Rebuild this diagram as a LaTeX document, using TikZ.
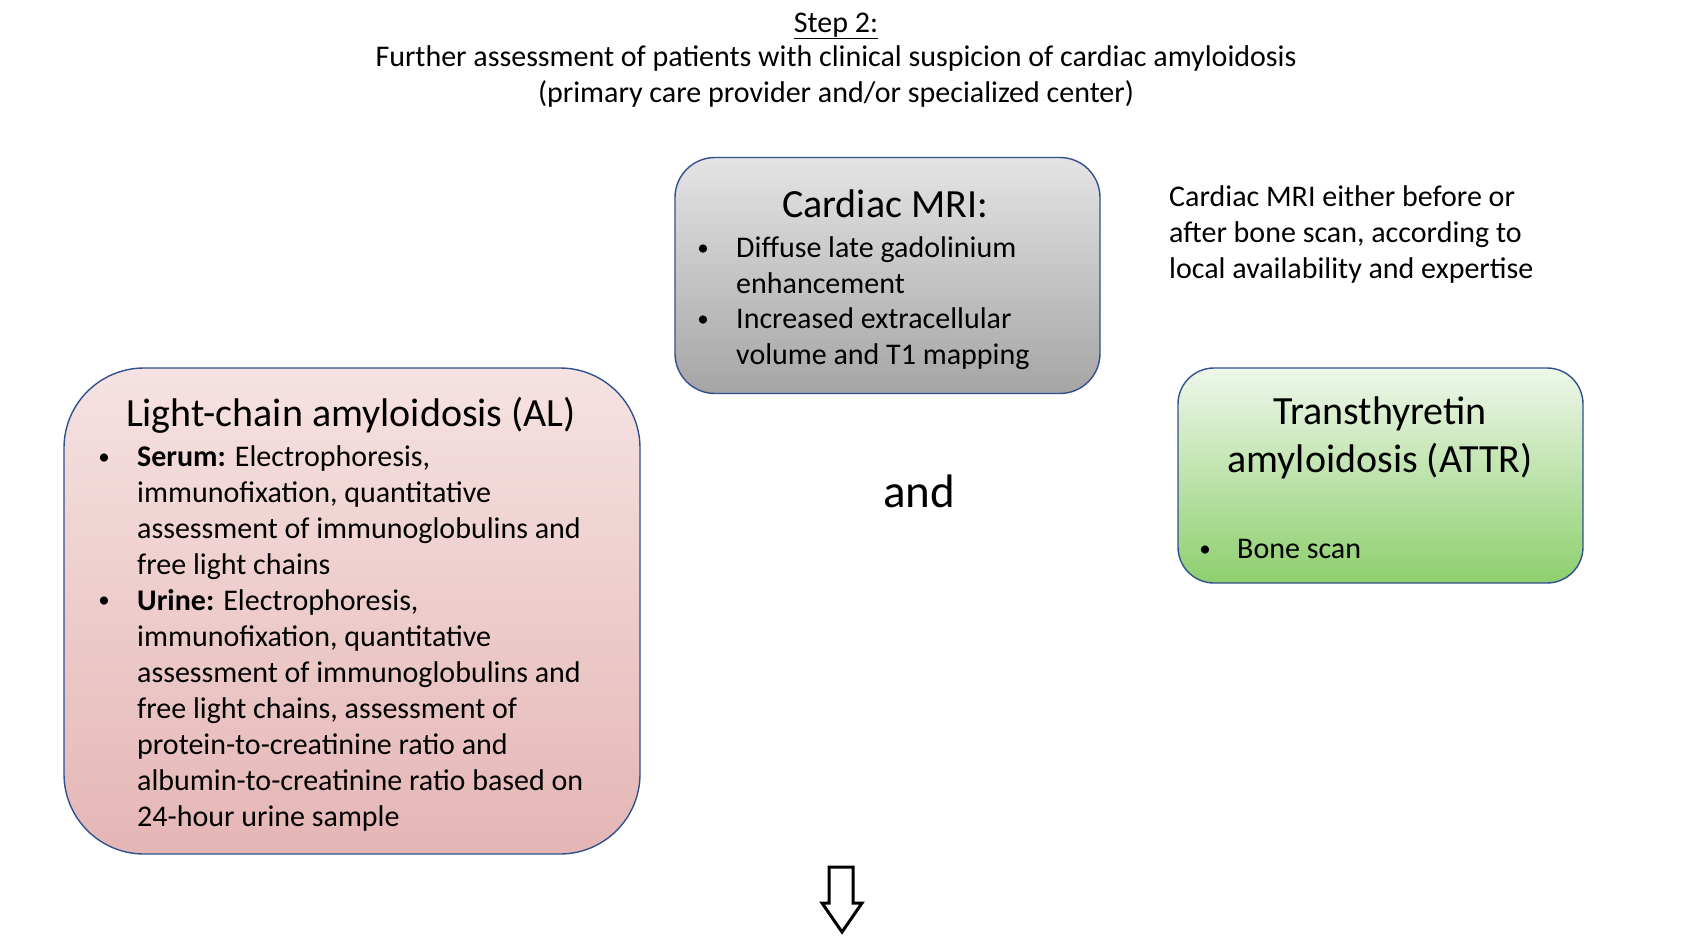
\documentclass[tikz,border=0pt]{standalone}
\usepackage{fontspec}
\setmainfont{Carlito}
\definecolor{bordc}{HTML}{2F528F}
\definecolor{graytop}{HTML}{E4E4E4}
\definecolor{graybot}{HTML}{A5A5A5}
\definecolor{redtop}{HTML}{F6E2E2}
\definecolor{redbot}{HTML}{E4B6B5}
\definecolor{greentop}{HTML}{EEF7EA}
\definecolor{greenbot}{HTML}{8ECF6E}
\begin{document}
\begin{tikzpicture}[x=1pt,y=-1pt,
  box/.style={draw=bordc, line width=1.4pt, inner sep=0pt},
  body/.style={inner sep=0pt, align=left, anchor=base west, font=\fontsize{30}{36}\selectfont},
  bul/.style={inner sep=0pt, anchor=base, font=\fontsize{23}{36}\selectfont},
  head/.style={inner sep=0pt, anchor=base, align=center, font=\fontsize{40}{48}\selectfont},
  ttl/.style={inner sep=0pt, anchor=base, font=\fontsize{30}{36}\selectfont}]
\useasboundingbox (0,0) rectangle (1702,938);
% title
\node[ttl] (t1) at (836,32) {\underline{Step 2:}};
\node[ttl] (t2) at (836,66.5) {Further assessment of patients with clinical suspicion of cardiac amyloidosis};
\node[ttl] (t3) at (836,102.5) {(primary care provider and/or specialized center)};
% boxes
\node[box, rounded corners=40pt, minimum width=425pt, minimum height=236pt, top color=graytop, bottom color=graybot] (mri) at (887.5,275.5) {};
\node[box, rounded corners=80pt, minimum width=576pt, minimum height=486pt, top color=redtop, bottom color=redbot] (al) at (352,611) {};
\node[box, rounded corners=36pt, minimum width=405pt, minimum height=215pt, top color=greentop, bottom color=greenbot] (attr) at (1380.5,475.5) {};
% MRI text
\node[head] (mrih) at (885,217) {Cardiac MRI:};
\node[bul] (mb1) at (703,255) {•};
\node[body] (mt1) at (736,293) {Diffuse late gadolinium\\enhancement};
\node[bul] (mb2) at (703,326.5) {•};
\node[body] (mt2) at (736,364.5) {Increased extracellular\\volume and T1 mapping};
% side note
\node[body] (note) at (1169,278.5) {Cardiac MRI either before or\\after bone scan, according to\\local availability and expertise};
% AL text
\node[head] (alh) at (351,426) {Light-chain amyloidosis (AL)};
\node[bul] (ab1) at (104,464.5) {•};
\node[body] (at1) at (137,574.5) {\textbf{Serum:} Electrophoresis,\\immunofixation, quantitative\\assessment of immunoglobulins and\\free light chains};
\node[bul] (ab2) at (104,607.5) {•};
\node[body] (at2) at (137,826) {\textbf{Urine:} Electrophoresis,\\immunofixation, quantitative\\assessment of immunoglobulins and\\free light chains, assessment of\\protein-to-creatinine ratio and\\albumin-to-creatinine ratio based on\\24-hour urine sample};
% and
\node[inner sep=0pt, anchor=base, font=\fontsize{47}{56}\selectfont] (and) at (919,507) {and};
% ATTR text
\node[head] (attrh) at (1380,472) {Transthyretin\\amyloidosis (ATTR)};
\node[bul] (tb1) at (1205,556) {•};
\node[body] (tt1) at (1237,558) {Bone scan};
% arrow
\draw[line width=3pt, fill=white, line join=miter] (829,867) -- (853,867) -- (853,903) -- (862,903) -- (842,932) -- (822,903) -- (829,903) -- cycle;
\end{tikzpicture}
\end{document}
